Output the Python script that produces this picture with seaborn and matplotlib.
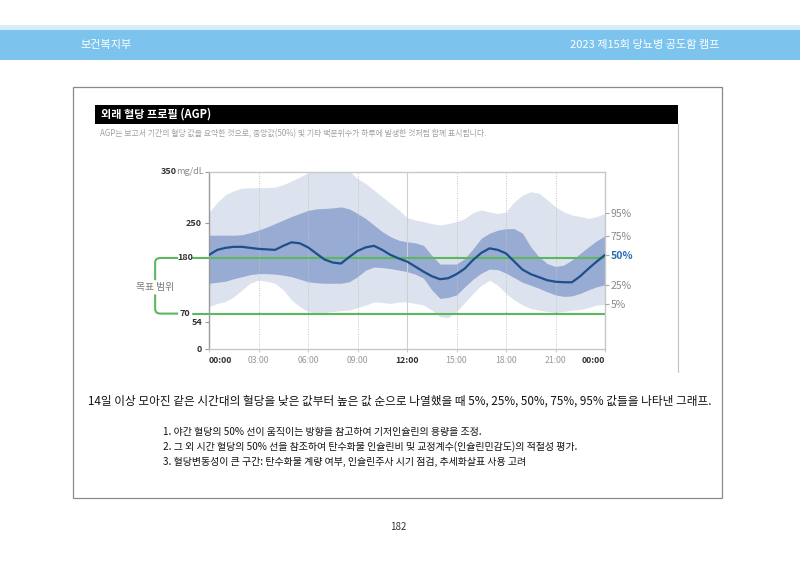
import numpy as np
import pandas as pd
import matplotlib
matplotlib.use("Agg")
import matplotlib.pyplot as plt
import matplotlib.transforms as mtransforms
from matplotlib.patches import Rectangle, PathPatch
from matplotlib.path import Path
from matplotlib.lines import Line2D
import seaborn as sns

# ---------------- data (half-hour readings, 00:00 .. 24:00) ----------------
hours = [i / 2 for i in range(49)]
p95 = [270, 290, 305, 313, 318, 319, 319, 319, 320, 325, 332, 340, 348, 355, 360, 360, 360,
       352, 337, 327, 314, 301, 288, 275, 260, 255, 252, 248, 245, 248, 252, 258, 270,
       275, 271, 268, 271, 291, 304, 311, 308, 295, 281, 271, 265, 262, 258, 262, 268]
p75 = [225, 225, 225, 225, 226, 230, 235, 241, 248, 255, 262, 268, 274, 277, 278, 279, 281,
       277, 268, 258, 245, 232, 222, 215, 212, 210, 205, 185, 168, 168, 168, 179, 198,
       219, 229, 235, 238, 238, 229, 202, 182, 169, 163, 166, 176, 189, 202, 214, 224]
p50 = [186, 196, 200, 202, 202, 200, 198, 197, 196, 204, 211, 209, 201, 189, 177, 171, 169,
       182, 194, 201, 204, 196, 186, 179, 173, 163, 153, 144, 138, 140, 148, 159, 176,
       190, 199, 196, 189, 173, 157, 148, 142, 136, 133, 132, 132, 144, 159, 173, 186]
p25 = [130, 132, 134, 139, 143, 147, 149, 149, 148, 146, 143, 138, 133, 131, 130, 130, 130,
       133, 143, 156, 162, 161, 159, 156, 153, 148, 140, 117, 100, 102, 107, 123, 138,
       150, 158, 157, 150, 141, 132, 126, 120, 113, 107, 104, 105, 110, 117, 123, 127]
p05 = [84, 90, 94, 103, 117, 130, 136, 134, 130, 117, 97, 84, 74, 71, 72, 74, 76,
       77, 82, 87, 93, 92, 90, 93, 93, 90, 87, 77, 64, 62, 74, 92, 110,
       126, 136, 126, 110, 97, 87, 80, 77, 74, 72, 74, 77, 78, 82, 87, 88]
percentile_labels = ["95%", "75%", "50%", "25%", "5%"]
x_ticks = [0, 3, 6, 9, 12, 15, 18, 21, 24]
x_tick_labels = ["00:00", "03:00", "06:00", "09:00", "12:00", "15:00", "18:00", "21:00", "00:00"]
y_ticks = [0, 54, 250, 350]
y_tick_labels = ["0", "54", "250", ""]
target_range = [70, 180]
target_label = "목표 범위"
unit_label = "mg/dL"

header_left = "보건복지부"
header_right = "2023 제15회 당뇨병 공도함 캠프"
panel_title = "외래 혈당 프로필 (AGP)"
panel_subtitle = "AGP는 보고서 기간의 혈당 값을 요약한 것으로, 중앙값(50%) 및 기타 백분위수가 하루에 발생한 것처럼 함께 표시됩니다."
caption = "14일 이상 모아진 같은 시간대의 혈당을 낮은 값부터 높은 값 순으로 나열했을 때 5%, 25%, 50%, 75%, 95% 값들을 나타낸 그래프."
notes = [
    "1. 야간 혈당의 50% 선이 움직이는 방향을 참고하여 기저인슐린의 용량을 조정.",
    "2. 그 외 시간 혈당의 50% 선을 참조하여 탄수화물 인슐린비 및 교정계수(인슐린민감도)의 적절성 평가.",
    "3. 혈당변동성이 큰 구간: 탄수화물 계량 여부, 인슐린주사 시기 점검, 추세화살표 사용 고려",
]
page_number = "182"

# ---------------- style ----------------
sns.set_theme(style="white")
plt.rcParams["font.family"] = ["Noto Sans CJK KR", "DejaVu Sans"]

W, H = 800, 566
fig = plt.figure(figsize=(W / 100, H / 100), dpi=100)
fig.patch.set_facecolor("white")


def fx(x):
    return x / W


def fy(y):
    return 1 - y / H


# header band
fig.patches.append(Rectangle((0, fy(30)), 1, 5 / H, transform=fig.transFigure,
                             facecolor="#d6ecfa", edgecolor="none", zorder=0))
fig.patches.append(Rectangle((0, fy(60)), 1, 30 / H, transform=fig.transFigure,
                             facecolor="#7cc4ee", edgecolor="none", zorder=0))
fig.text(fx(80), fy(45), header_left, color="white", fontsize=8, va="center", ha="left")
fig.text(fx(720), fy(45), header_right, color="white", fontsize=8, va="center", ha="right")

# outer frame
fig.patches.append(Rectangle((fx(73), fy(498)), 649 / W, 411 / H, transform=fig.transFigure,
                             fill=False, edgecolor="#8a8a8a", linewidth=0.9, zorder=0))
# black title bar
fig.patches.append(Rectangle((fx(95), fy(124)), 583 / W, 19 / H, transform=fig.transFigure,
                             facecolor="black", edgecolor="none", zorder=0))
fig.lines.append(Line2D([fx(678), fx(678)], [fy(124), fy(372)], transform=fig.transFigure,
                        color="#c4c4c4", lw=0.8))
fig.text(fx(101), fy(114.5), panel_title, color="white", fontsize=8, fontweight="bold",
         va="center", ha="left")
fig.text(fx(100), fy(134), panel_subtitle, color="#a0a0a0", fontsize=5.7, va="center", ha="left")

# ---------------- chart ----------------
ax = fig.add_axes([fx(209), fy(349), 396 / W, 177 / H])
ax.set_xlim(0, 24)
ax.set_ylim(0, 350)

ax.fill_between(hours, p05, p95, color="#dde2ef", lw=0, zorder=1)
ax.fill_between(hours, p25, p75, color="#97abd3", lw=0, zorder=1.2)

for h in x_ticks[1:-1]:
    if h == 12:
        ax.axvline(h, color="#cfcfcf", lw=0.8, zorder=1.5)
    else:
        ax.axvline(h, color="#c4c4c4", lw=0.7, ls=(0, (1, 1.5)), zorder=1.5)

df = pd.DataFrame({"hour": hours, "p50": p50})
sns.lineplot(data=df, x="hour", y="p50", ax=ax, color="#1d4f8c", lw=1.6, zorder=3)

green = "#5cb85c"
for v in target_range:
    ax.axhline(v, color=green, lw=1.5, zorder=2.5)

# bracket and labels left of the axes
trans = mtransforms.blended_transform_factory(ax.transAxes, ax.transData)
lo, hi = target_range
x_in = -0.040
x_lbl = -0.060
x_out = -0.078
x_br = -0.136
rx, ry = 0.014, 9
for v in target_range:
    ax.add_line(Line2D([x_in, 0], [v, v], transform=trans, color=green, lw=1.5, clip_on=False))
    ax.text(x_lbl, v, str(v), transform=trans, ha="center", va="center", fontsize=6.5,
            fontweight="bold", color="#333333")
gap_top = 136
gap_bot = 108
codes = [Path.MOVETO, Path.LINETO, Path.CURVE3, Path.CURVE3, Path.LINETO]
verts_top = [(x_out, hi), (x_br + rx, hi), (x_br, hi), (x_br, hi - ry), (x_br, gap_top)]
ax.add_patch(PathPatch(Path(verts_top, codes), transform=trans, fill=False,
                       edgecolor=green, lw=1.5, clip_on=False))
verts_bot = [(x_out, lo), (x_br + rx, lo), (x_br, lo), (x_br, lo + ry), (x_br, gap_bot)]
ax.add_patch(PathPatch(Path(verts_bot, codes), transform=trans, fill=False,
                       edgecolor=green, lw=1.5, clip_on=False))
ax.text(x_br, (gap_top + gap_bot) / 2, target_label, transform=trans, ha="center", va="center",
        fontsize=7, color="#7a7a7a")

# y ticks
ax.set_yticks(y_ticks)
ax.set_yticklabels(y_tick_labels)
ax.tick_params(axis="y", left=True, length=3, width=0.8, color="#999999", pad=2,
               labelsize=6.5, labelcolor="#333333")
for lab in ax.get_yticklabels():
    lab.set_fontweight("bold")
unit = ax.text(-0.012, 350, unit_label, transform=trans, ha="right", va="center",
               fontsize=6.5, color="#888888")
ax.annotate("350", xy=(0, 0.5), xycoords=unit, ha="right", va="center",
            fontsize=6.5, fontweight="bold", color="#333333")

# x ticks
ax.set_xticks(x_ticks)
ax.set_xticklabels(x_tick_labels)
ax.tick_params(axis="x", bottom=True, length=2, width=0.6, color="#bbbbbb", pad=3,
               labelsize=6.3)
xlabs = ax.get_xticklabels()
for i, (lab, h) in enumerate(zip(xlabs, x_ticks)):
    if h in (0, 12, 24):
        lab.set_color("#333333")
        lab.set_fontweight("bold")
    else:
        lab.set_color("#9a9a9a")
xlabs[0].set_horizontalalignment("left")
xlabs[-1].set_horizontalalignment("right")
ax.set_xlabel("")
ax.set_ylabel("")

for s in ax.spines.values():
    s.set_color("#c8c8c8")
    s.set_linewidth(1.0)
ax.spines["left"].set_color("#9a9a9a")

# right percentile labels
ax2 = ax.twinx()
ax2.set_ylim(0, 350)
ends = [p95[-1], p75[-1], p50[-1], p25[-1], p05[-1]]
ax2.set_yticks(ends)
ax2.set_yticklabels(percentile_labels)
ax2.tick_params(axis="y", right=True, length=3, width=0.8, color="#aaaaaa", pad=1,
                labelsize=7.5, labelcolor="#8a8a8a")
for lab, txt in zip(ax2.get_yticklabels(), percentile_labels):
    if txt == "50%":
        lab.set_color("#2c6db4")
        lab.set_fontweight("bold")
for s in ax2.spines.values():
    s.set_visible(False)
ax2.grid(False)

# ---------------- text below ----------------
fig.text(fx(400), fy(401), caption, fontsize=8.4, color="#111111", ha="center", va="center")
for i, t in enumerate(notes):
    fig.text(fx(163), fy(432 + 15 * i), t, fontsize=7.2, color="#111111", ha="left", va="center")
fig.text(fx(398), fy(527), page_number, fontsize=7, color="#333333", ha="center", va="center")

fig.savefig("out.png", dpi=100, facecolor="white")
